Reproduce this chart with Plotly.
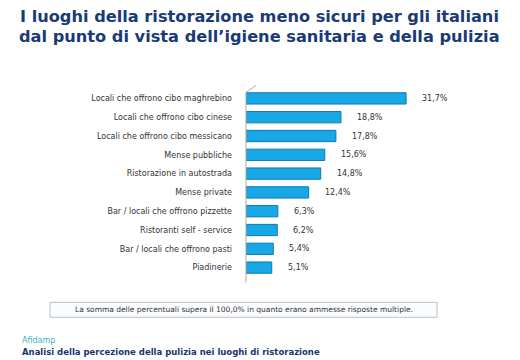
import plotly.graph_objects as go

categories = [
    "Locali che offrono cibo maghrebino",
    "Locali che offrono cibo cinese",
    "Locali che offrono cibo messicano",
    "Mense pubbliche",
    "Ristorazione in autostrada",
    "Mense private",
    "Bar / locali che offrono pizzette",
    "Ristoranti self - service",
    "Bar / locali che offrono pasti",
    "Piadinerie",
]
values = [31.7, 18.8, 17.8, 15.6, 14.8, 12.4, 6.3, 6.2, 5.4, 5.1]
value_labels = [f"{v:.1f}".replace(".", ",") + "%" for v in values]

title_lines = ["I luoghi della ristorazione meno sicuri per gli italiani",
               "dal punto di vista dell\u2019igiene sanitaria e della pulizia"]
note_text = "La somma delle percentuali supera il 100,0% in quanto erano ammesse risposte multiple."
source_text = "Afidamp"
footer_text = "Analisi della percezione della pulizia nei luoghi di ristorazione"

# page body has an 8px margin; figure placed at (8, 8)
OFF = 8
W, H = 520 - OFF, 360 - OFF
ML, MR = 246 - OFF, 72
MT, MB = 88.5 - OFF, 82.5
PW = W - ML - MR
PH = H - MT - MB

def px(x):  # reference-screen x -> paper
    return (x - OFF - ML) / PW

def py(y):  # reference-screen y -> paper
    return (H - MB - (y - OFF)) / PH

font = "DejaVu Sans"

fig = go.Figure()
fig.add_trace(go.Bar(
    x=values, y=categories, orientation="h", width=0.6,
    marker=dict(color="#18a8e6", line=dict(color="#0b78b8", width=1)),
    hoverinfo="skip",
))

for c, v, t in zip(categories, values, value_labels):
    fig.add_annotation(x=v, y=c, text=t, xanchor="left", showarrow=False,
                       xshift=14, font=dict(family=font, size=8, color="#333333"))

# axis "wall"
fig.add_shape(type="line", xref="paper", yref="paper", x0=px(246), x1=px(246),
              y0=py(283), y1=py(92), line=dict(color="#aaaaaa", width=1))
fig.add_shape(type="line", xref="paper", yref="paper", x0=px(246), x1=px(256),
              y0=py(92), y1=py(85), line=dict(color="#aaaaaa", width=1))

# note box
fig.add_shape(type="rect", xref="paper", yref="paper", x0=px(50), x1=px(437),
              y0=py(318), y1=py(303), line=dict(color="#b4c0d0", width=1),
              fillcolor="#fbfcfe")
fig.add_annotation(xref="paper", yref="paper", x=px(243.5), y=py(310.5), text=note_text,
                   showarrow=False, xanchor="center", yanchor="middle",
                   font=dict(family=font, size=7.5, color="#333333"))

fig.add_annotation(xref="paper", yref="paper", x=px(20), y=py(341), text=source_text,
                   showarrow=False, xanchor="left", yanchor="middle",
                   font=dict(family=font, size=8, color="#3ab3c3"))
fig.add_annotation(xref="paper", yref="paper", x=px(20), y=py(353), text="<b>" + footer_text + "</b>",
                   showarrow=False, xanchor="left", yanchor="middle",
                   font=dict(family=font, size=8.5, color="#1a3470"))

for line, yy in zip(title_lines, [16, 35.5]):
    fig.add_annotation(xref="paper", yref="paper", x=px(259), y=py(yy), text="<b>" + line + "</b>",
                       showarrow=False, xanchor="center", yanchor="middle", borderpad=0,
                       font=dict(family=font, size=16.2, color="#1a3a78"))

fig.update_layout(
    width=W, height=H, margin=dict(l=ML, r=MR, t=MT, b=MB),
    paper_bgcolor="white", plot_bgcolor="white", showlegend=False,
    xaxis=dict(range=[0, 40], visible=False),
    yaxis=dict(autorange="reversed", showgrid=False, zeroline=False, showline=False,
               ticks="", ticklabelstandoff=13,
               tickfont=dict(family=font, size=8, color="#333333")),
)

fig.write_html("out.html")
